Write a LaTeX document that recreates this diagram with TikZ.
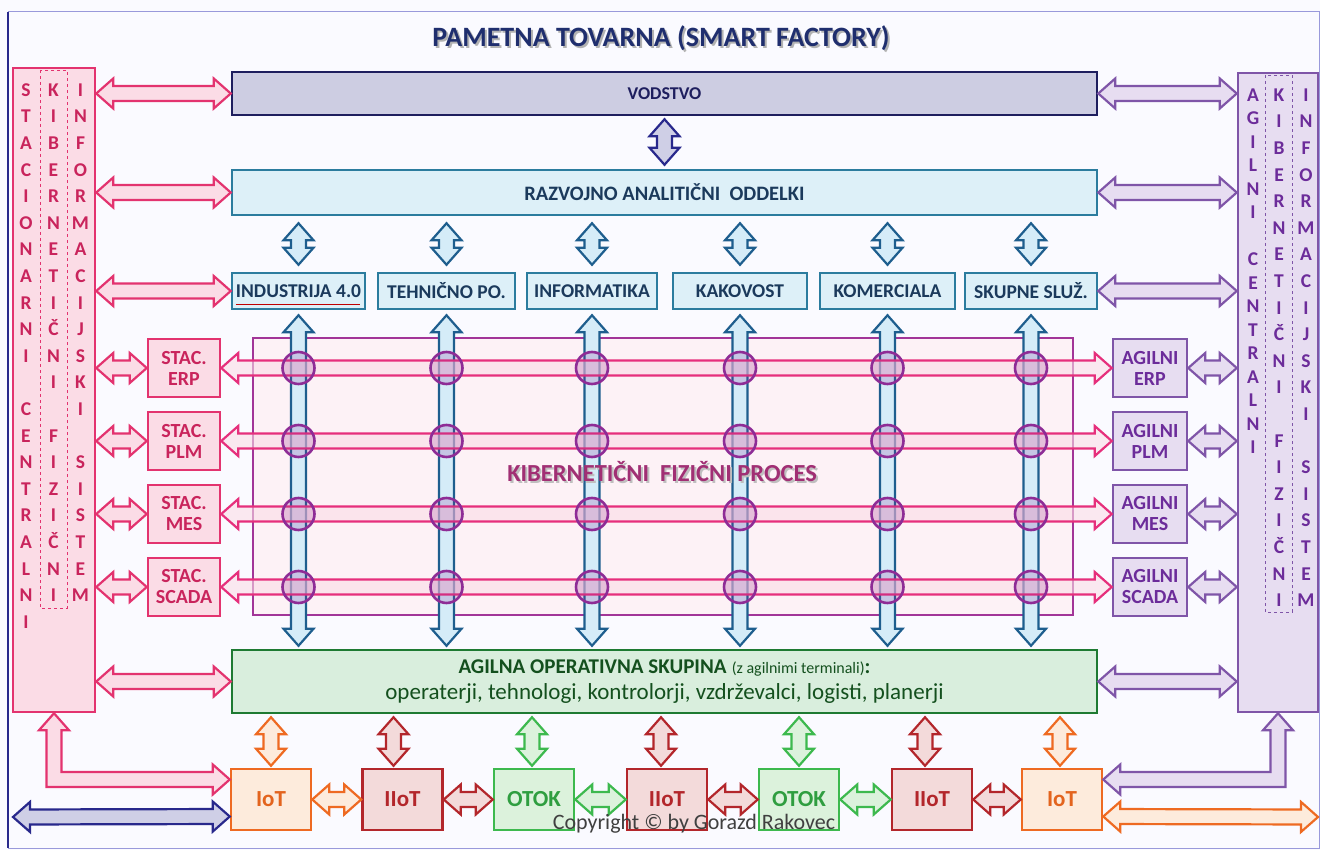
\documentclass[tikz,border=0pt]{standalone}
\usepackage{fontspec}
\setmainfont{Carlito}
\usetikzlibrary{calc}
\definecolor{pinkD}{HTML}{E3336F}
\definecolor{pinkL}{HTML}{FBDCE6}
\definecolor{pinkT}{HTML}{C9245C}
\definecolor{rowD}{HTML}{E62F7C}
\definecolor{purD}{HTML}{7F55A8}
\definecolor{purL}{HTML}{E7DDF1}
\definecolor{purT}{HTML}{6C2C9A}
\definecolor{blueD}{HTML}{1E5E8E}
\definecolor{blueL}{HTML}{D5ECF8}
\definecolor{deptD}{HTML}{2B7C9E}
\definecolor{deptL}{HTML}{DDF0F8}
\definecolor{deptT}{HTML}{1B3A5C}
\definecolor{navyD}{HTML}{1E1E5E}
\definecolor{vodL}{HTML}{CDCDE2}
\definecolor{greenD}{HTML}{1E7A32}
\definecolor{greenL}{HTML}{D9EEDD}
\definecolor{greenT}{HTML}{14501E}
\definecolor{orD}{HTML}{EE6A22}
\definecolor{orL}{HTML}{FDEBDC}
\definecolor{orT}{HTML}{E3641E}
\definecolor{redD}{HTML}{B3262B}
\definecolor{redL}{HTML}{F3DADA}
\definecolor{otD}{HTML}{3DB94E}
\definecolor{otL}{HTML}{DCF2DC}
\definecolor{otT}{HTML}{2F9E40}
\definecolor{circC}{HTML}{8E2C96}
\definecolor{procD}{HTML}{A23598}
\definecolor{procL}{HTML}{FDF2F6}
\definecolor{kibT}{HTML}{A12F74}
\definecolor{titleT}{HTML}{1F2E6E}
\definecolor{navyA}{HTML}{28288C}
\definecolor{navyAL}{HTML}{CFCFE6}
\def\arrHL{17pt}
\def\arrHW{15pt}
\def\arrSW{7.5pt}
\newcommand{\dblarrow}[3][]{%
  \coordinate (daP) at ($(#2)!\arrHL!(#3)$);
  \coordinate (daQ) at ($(#3)!\arrHL!(#2)$);
  \filldraw[arrbase,#1] (#2) -- ($(daP)!\arrHW!90:(#3)$) -- ($(daP)!\arrSW!90:(#3)$)
    -- ($(daQ)!\arrSW!-90:(#2)$) -- ($(daQ)!\arrHW!-90:(#2)$) -- (#3)
    -- ($(daQ)!\arrHW!90:(#2)$) -- ($(daQ)!\arrSW!90:(#2)$)
    -- ($(daP)!\arrSW!-90:(#3)$) -- ($(daP)!\arrHW!-90:(#3)$) -- cycle;}
\begin{document}
\begin{tikzpicture}[x=1pt,y=-1pt,
  box/.style={draw, line width=2.5pt, inner sep=0pt, align=center},
  vodbox/.style={box, draw=navyD, fill=vodL, text=navyD, font=\bfseries\fontsize{18}{21}\selectfont},
  razbox/.style={box, draw=deptD, fill=deptL, text=deptT},
  deptbox/.style={razbox, font=\bfseries\fontsize{19.5}{22}\selectfont, minimum height=36pt},
  pinkbox/.style={box, draw=pinkD, fill=pinkL, text=pinkT, font=\bfseries\fontsize{20}{21}\selectfont, minimum width=72pt, minimum height=58pt},
  purbox/.style={box, draw=purD, fill=purL, text=purT, font=\bfseries\fontsize{20}{21}\selectfont, minimum width=74pt, minimum height=58pt},
  botbox/.style={box, minimum width=80pt, minimum height=61pt, font=\bfseries\fontsize{23}{26}\selectfont},
  iotbox/.style={botbox, draw=orD, fill=orL, text=orT},
  iiotbox/.style={botbox, draw=redD, fill=redL, text=redD},
  otokbox/.style={botbox, draw=otD, fill=otL, text=otT},
  lett/.style={inner sep=0pt, font=\bfseries\fontsize{19.5}{20}\selectfont, text height=12.5pt, text depth=0pt},
  arrbase/.style={line width=2.2pt, line join=miter},
  parr/.style={draw=pinkD, fill=pinkL},
  puarr/.style={draw=purD, fill=purL},
  barr/.style={draw=blueD, fill=blueL},
  rowarr/.style={draw=rowD, fill=pinkL, fill opacity=0.6},
  navarr/.style={draw=navyA, fill=navyAL},
  oarr/.style={draw=orD, fill=orL},
  rarr/.style={draw=redD, fill=redL},
  garr/.style={draw=otD, fill=otL},
  circ/.style={draw=circC, line width=2.6pt, fill=circC, fill opacity=0.2}
]
\useasboundingbox (0,0) rectangle (1320,850);
\fill[white!98!blue] (0,0) rectangle (1320,850);
\draw[black!35!blue!40!white, line width=1pt] (8,12) rectangle (1319,848);
\draw[navyA, line width=1.8pt] (8,12) -- (8,848);

% title
\node[font=\bfseries\fontsize{28}{31}\selectfont, text=black!30] (titlesh) at (663,40) {PAMETNA TOVARNA (SMART FACTORY)};
\node[font=\bfseries\fontsize{28}{31}\selectfont, text=titleT] (title) at (661,38) {PAMETNA TOVARNA (SMART FACTORY)};

% process area
\node[draw=procD, fill=procL, line width=1.6pt, minimum width=820pt, minimum height=277pt, inner sep=0pt] (proc) at (663,476.5) {};

% main boxes
\node[vodbox, minimum width=865pt, minimum height=43pt] (vod) at (664.5,93.5) {VODSTVO};
\node[razbox, minimum width=865pt, minimum height=45pt, font=\bfseries\fontsize{20.5}{23}\selectfont] (raz) at (664.5,192.5) {RAZVOJNO ANALITIČNI\ \ ODDELKI};
\node[deptbox, minimum width=133pt] (ind) at (298.5,291) {INDUSTRIJA 4.0};
\node[deptbox, minimum width=137pt] (teh) at (446.5,291) {TEHNIČNO PO.};
\node[deptbox, minimum width=130pt] (inf) at (592,291) {INFORMATIKA};
\node[deptbox, minimum width=134pt] (kak) at (740,291) {KAKOVOST};
\node[deptbox, minimum width=135pt] (kom) at (887.5,291) {KOMERCIALA};
\node[deptbox, minimum width=132pt] (sku) at (1031,291) {SKUPNE SLUŽ.};
\draw[red!75!black, line width=1.3pt] ($(ind.south west)+(5,-6)$) -- ($(ind.south east)+(-6,-6)$);

\node[box, draw=greenD, fill=greenL, text=greenT, minimum width=865pt, minimum height=63pt, font=\fontsize{23}{26}\selectfont] (agl) at (664.5,681.5)
  {{\bfseries\fontsize{21}{26}\selectfont AGILNA OPERATIVNA SKUPINA} {\fontsize{16}{18}\selectfont (z agilnimi terminali)}{\bfseries\fontsize{21}{26}\selectfont :}\\operaterji, tehnologi, kontrolorji, vzdrževalci, logisti, planerji};

% side columns
\node[box, draw=pinkD, fill=pinkL, minimum width=82pt, minimum height=644pt] (lc) at (54,390) {};
\node[box, draw=purD, fill=purL, minimum width=80pt, minimum height=639pt] (rc) at (1278,392.5) {};
\draw[pinkD, dashed, line width=0.8pt] (40,70) rectangle (67,608);
\draw[purD, dashed, line width=0.8pt] (1265,75) rectangle (1292,612);

\foreach \ch [count=\i from 0] in {S,T,A,C,I,O,N,A,R,N,I,{},C,E,N,T,R,A,L,N,I}
  \node[lett, text=pinkT] (la\i) at (26,90+26.6*\i) {\ch};
\foreach \ch [count=\i from 0] in {K,I,B,E,R,N,E,T,I,Č,N,I,{},F,I,Z,I,Č,N,I}
  \node[lett, text=pinkT] (lb\i) at (53.5,90+26.6*\i) {\ch};
\foreach \ch [count=\i from 0] in {I,N,F,O,R,M,A,C,I,J,S,K,I,{},S,I,S,T,E,M}
  \node[lett, text=pinkT] (lcc\i) at (80.5,90+26.6*\i) {\ch};
\foreach \ch [count=\i from 0] in {A,G,I,L,N,I,{},C,E,N,T,R,A,L,N,I}
  \node[lett, text=purT] (ra\i) at (1253,95+23.5*\i) {\ch};
\foreach \ch [count=\i from 0] in {K,I,B,E,R,N,E,T,I,Č,N,I,{},F,I,Z,I,Č,N,I}
  \node[lett, text=purT] (rb\i) at (1279,95+26.6*\i) {\ch};
\foreach \ch [count=\i from 0] in {I,N,F,O,R,M,A,C,I,J,S,K,I,{},S,I,S,T,E,M}
  \node[lett, text=purT] (rcc\i) at (1306,95+26.6*\i) {\ch};

% stac / agilni boxes
\node[pinkbox] (stE) at (184,368) {STAC.\\ERP};
\node[pinkbox] (stP) at (184,441) {STAC.\\PLM};
\node[pinkbox] (stM) at (184,514) {STAC.\\MES};
\node[pinkbox] (stS) at (184,587) {STAC.\\SCADA};
\node[purbox] (agE) at (1150,368) {AGILNI\\ERP};
\node[purbox] (agP) at (1150,441) {AGILNI\\PLM};
\node[purbox] (agM) at (1150,514) {AGILNI\\MES};
\node[purbox] (agS) at (1150,587) {AGILNI\\SCADA};

% bottom boxes
\node[iotbox] (iot1) at (271,799.5) {IoT};
\node[iiotbox] (iiot1) at (402.5,799.5) {IIoT};
\node[otokbox] (otok1) at (534,799.5) {OTOK};
\node[iiotbox] (iiot2) at (667,799.5) {IIoT};
\node[otokbox] (otok2) at (799,799.5) {OTOK};
\node[iiotbox] (iiot3) at (932,799.5) {IIoT};
\node[iotbox] (iot2) at (1062,799.5) {IoT};

% vodstvo - razvoj
\coordinate (vr1) at ([yshift=-3pt]vod.south);
\coordinate (vr2) at ([yshift=4pt]raz.north);
\dblarrow[navarr]{vr1}{vr2}

% columns
\foreach \d in {ind,teh,inf,kak,kom,sku}{
  \coordinate (\d-tt) at (raz.south -| \d.north);
  \coordinate (\d-t) at ([yshift=-7pt]\d-tt);
  \coordinate (\d-u) at ([yshift=7pt]\d.north);
  \dblarrow[barr]{\d-t}{\d-u}
  \coordinate (\d-s) at ([yshift=-5pt]\d.south);
  \coordinate (\d-bb) at (agl.north -| \d.south);
  \coordinate (\d-b) at ([yshift=3pt]\d-bb);
  \dblarrow[barr]{\d-s}{\d-b}
}
% rows
\foreach \s/\a in {stE/agE,stP/agP,stM/agM,stS/agS}{
  \dblarrow[rowarr]{\s.east}{\a.west}
}
\foreach \d in {ind,teh,inf,kak,kom,sku}{
  \foreach \s in {stE,stP,stM,stS}{
    \draw[circ] (\d |- \s) circle[radius=16];
  }
}
\node[font=\bfseries\fontsize{24.5}{27}\selectfont, text=black!25] (kibsh) at (664,474) {KIBERNETIČNI\ \ FIZIČNI PROCES};
\node[font=\bfseries\fontsize{24.5}{27}\selectfont, text=kibT] (kib) at (662,472) {KIBERNETIČNI\ \ FIZIČNI PROCES};

% left side arrows
\coordinate (lv) at (lc.east |- vod.west);
\coordinate (lr) at (lc.east |- raz.west);
\coordinate (li) at (lc.east |- ind.west);
\coordinate (la) at (lc.east |- agl.west);
\dblarrow[parr]{lv}{vod.west}
\dblarrow[parr]{lr}{raz.west}
\dblarrow[parr]{li}{ind.west}
\dblarrow[parr]{la}{agl.west}
\foreach \s in {stE,stP,stM,stS}{
  \coordinate (\s-l) at (lc.east |- \s.west);
  \dblarrow[parr]{\s-l}{\s.west}
}
% right side arrows
\coordinate (rv) at (rc.west |- vod.east);
\coordinate (rr) at (rc.west |- raz.east);
\coordinate (rs) at (rc.west |- sku.east);
\coordinate (ra) at (rc.west |- agl.east);
\dblarrow[puarr]{vod.east}{rv}
\dblarrow[puarr]{raz.east}{rr}
\dblarrow[puarr]{sku.east}{rs}
\dblarrow[puarr]{agl.east}{ra}
\foreach \a in {agE,agP,agM,agS}{
  \coordinate (\a-r) at (rc.west |- \a.east);
  \dblarrow[puarr]{\a.east}{\a-r}
}

% bottom vertical arrows
\foreach \b/\xs/\st in {iot1/0/oarr,iiot1/-9/rarr,otok1/-2/garr,iiot2/-6/rarr,otok2/0/garr,iiot3/-7/rarr,iot2/-2/oarr}{
  \coordinate (\b-aa) at (agl.south -| \b.north);
  \coordinate (\b-a) at ([xshift=\xs pt, yshift=-3pt]\b-aa);
  \coordinate (\b-n) at ([xshift=\xs pt, yshift=2pt]\b.north);
  \dblarrow[\st]{\b-a}{\b-n}
}
% bottom horizontal arrows
\dblarrow[oarr]{iot1.east}{iiot1.west}
\dblarrow[rarr]{iiot1.east}{otok1.west}
\dblarrow[garr]{otok1.east}{iiot2.west}
\dblarrow[rarr]{iiot2.east}{otok2.west}
\dblarrow[garr]{otok2.east}{iiot3.west}
\dblarrow[rarr]{iiot3.east}{iot2.west}

% bent arrows
\coordinate (lbe) at ([yshift=20pt]iot1.west);
\filldraw[arrbase,parr] let \p1=(lc.south), \p2=(lbe) in
  (\p1) -- ({\x1+15pt},{\y1-17pt}) -- ({\x1+7.5pt},{\y1-17pt}) -- ({\x1+7.5pt},{\y2+7.5pt})
  -- ({\x2-17pt},{\y2+7.5pt}) -- ({\x2-17pt},{\y2+15pt}) -- (\p2) -- ({\x2-17pt},{\y2-15pt})
  -- ({\x2-17pt},{\y2-7.5pt}) -- ({\x1-7.5pt},{\y2-7.5pt}) -- ({\x1-7.5pt},{\y1-17pt})
  -- ({\x1-15pt},{\y1-17pt}) -- cycle;
\coordinate (rbe) at ([yshift=20pt]iot2.east);
\filldraw[arrbase,puarr] let \p1=(rc.south), \p2=(rbe) in
  (\p1) -- ({\x1+15pt},{\y1-17pt}) -- ({\x1+7.5pt},{\y1-17pt}) -- ({\x1+7.5pt},{\y2-7.5pt})
  -- ({\x2+17pt},{\y2-7.5pt}) -- ({\x2+17pt},{\y2-15pt}) -- (\p2) -- ({\x2+17pt},{\y2+15pt})
  -- ({\x2+17pt},{\y2+7.5pt}) -- ({\x1-7.5pt},{\y2+7.5pt}) -- ({\x1-7.5pt},{\y1-17pt})
  -- ({\x1-15pt},{\y1-17pt}) -- cycle;
% bottom long arrows
\coordinate (nl) at (13,817);
\coordinate (nr) at ([yshift=-17pt]iot1.west);
\dblarrow[navarr]{nl}{nr}
\coordinate (or1) at ([yshift=-17pt]iot2.east);
\coordinate (or2) at (1318,817);
\dblarrow[oarr]{or1}{or2}

\node[font=\fontsize{22}{24}\selectfont, text=black!75, anchor=base, inner sep=0pt] (copy) at (694,829) {Copyright © by Gorazd Rakovec};
\end{tikzpicture}
\end{document}
